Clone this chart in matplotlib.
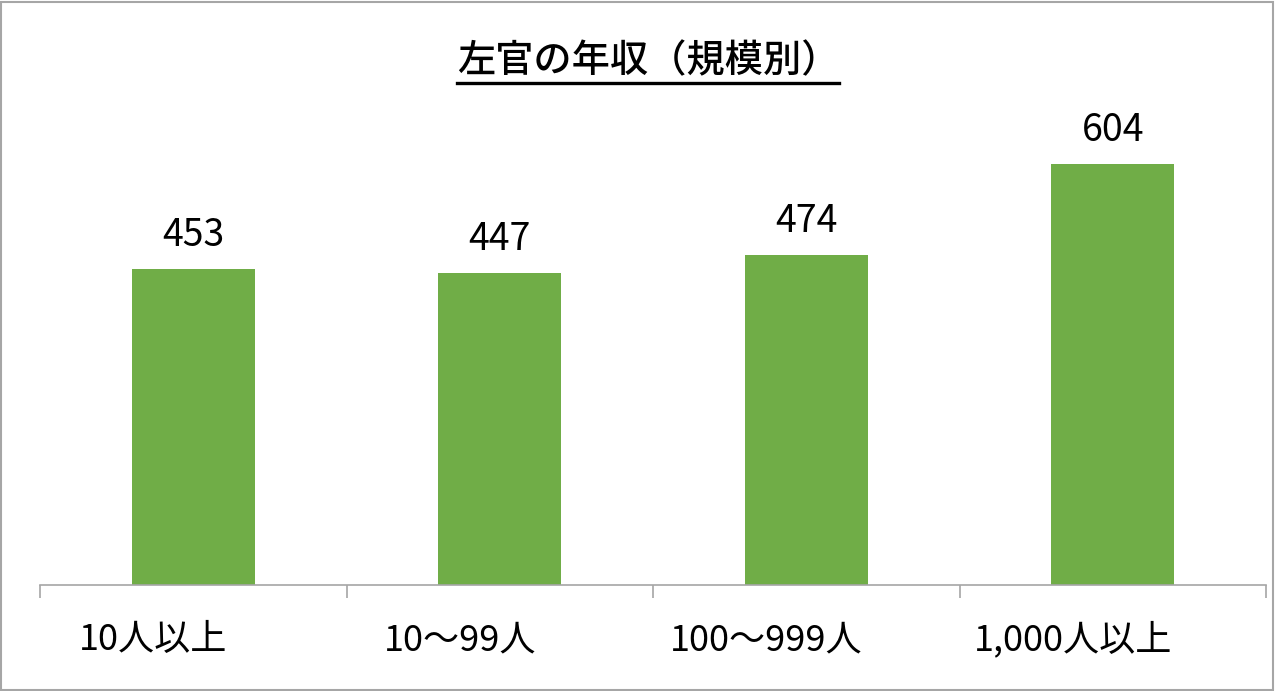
import matplotlib
matplotlib.use("Agg")
import matplotlib.pyplot as plt
from matplotlib.patches import Rectangle
from matplotlib.lines import Line2D

plt.rcParams['font.family'] = ['Noto Sans CJK JP', 'DejaVu Sans']

categories = ["10人以上", "10〜99人", "100〜999人", "1,000人以上"]
values = [453, 447, 474, 604]
title = "左官の年収（規模別）"

W, H = 1275, 691
fig = plt.figure(figsize=(W / 100, H / 100), dpi=100)
ax = fig.add_axes([40 / W, 106 / H, (1266 - 40) / W, 488 / H])

x = list(range(len(categories)))
ax.bar(x, values, width=0.4, color="#70AD47", zorder=2)
ax.set_xlim(-0.5, len(categories) - 0.5)
ax.set_ylim(0, 700)

for xi, v in zip(x, values):
    ax.annotate(str(v), (xi, v), xytext=(0, 10), textcoords="offset points",
                ha="center", va="bottom", fontsize=27, color="black")

for s in ["top", "right", "left"]:
    ax.spines[s].set_visible(False)
ax.spines["bottom"].set_color("#A6A6A6")
ax.spines["bottom"].set_linewidth(1.2)
ax.set_yticks([])
ax.set_xticks([-0.5, 0.5, 1.5, 2.5, 3.5])
ax.set_xticklabels([])
ax.tick_params(axis="x", length=9, width=1.2, color="#A6A6A6", direction="out")
for xi, c in zip(x, categories):
    fig.text((40 + (xi + 0.5) * (1226 / 4) - 40) / W, 1 - 640 / H, c, ha="center", va="center",
             fontsize=26, color="black")

t = fig.text(648 / W, 1 - 61 / H, title, ha="center", va="center", fontsize=27.5,
             fontweight="medium", color="black")
fig.canvas.draw()
bb = t.get_window_extent()
fig.add_artist(Line2D([bb.x0 / W, bb.x1 / W], [1 - 83 / H, 1 - 83 / H], color="black",
                      linewidth=2.4, transform=fig.transFigure))

fig.add_artist(Rectangle((1 / W, 1 / H), (W - 3) / W, (H - 3) / H, fill=False,
                         edgecolor="#A6A6A6", linewidth=1.5, transform=fig.transFigure))

fig.savefig("out.png", dpi=100)
